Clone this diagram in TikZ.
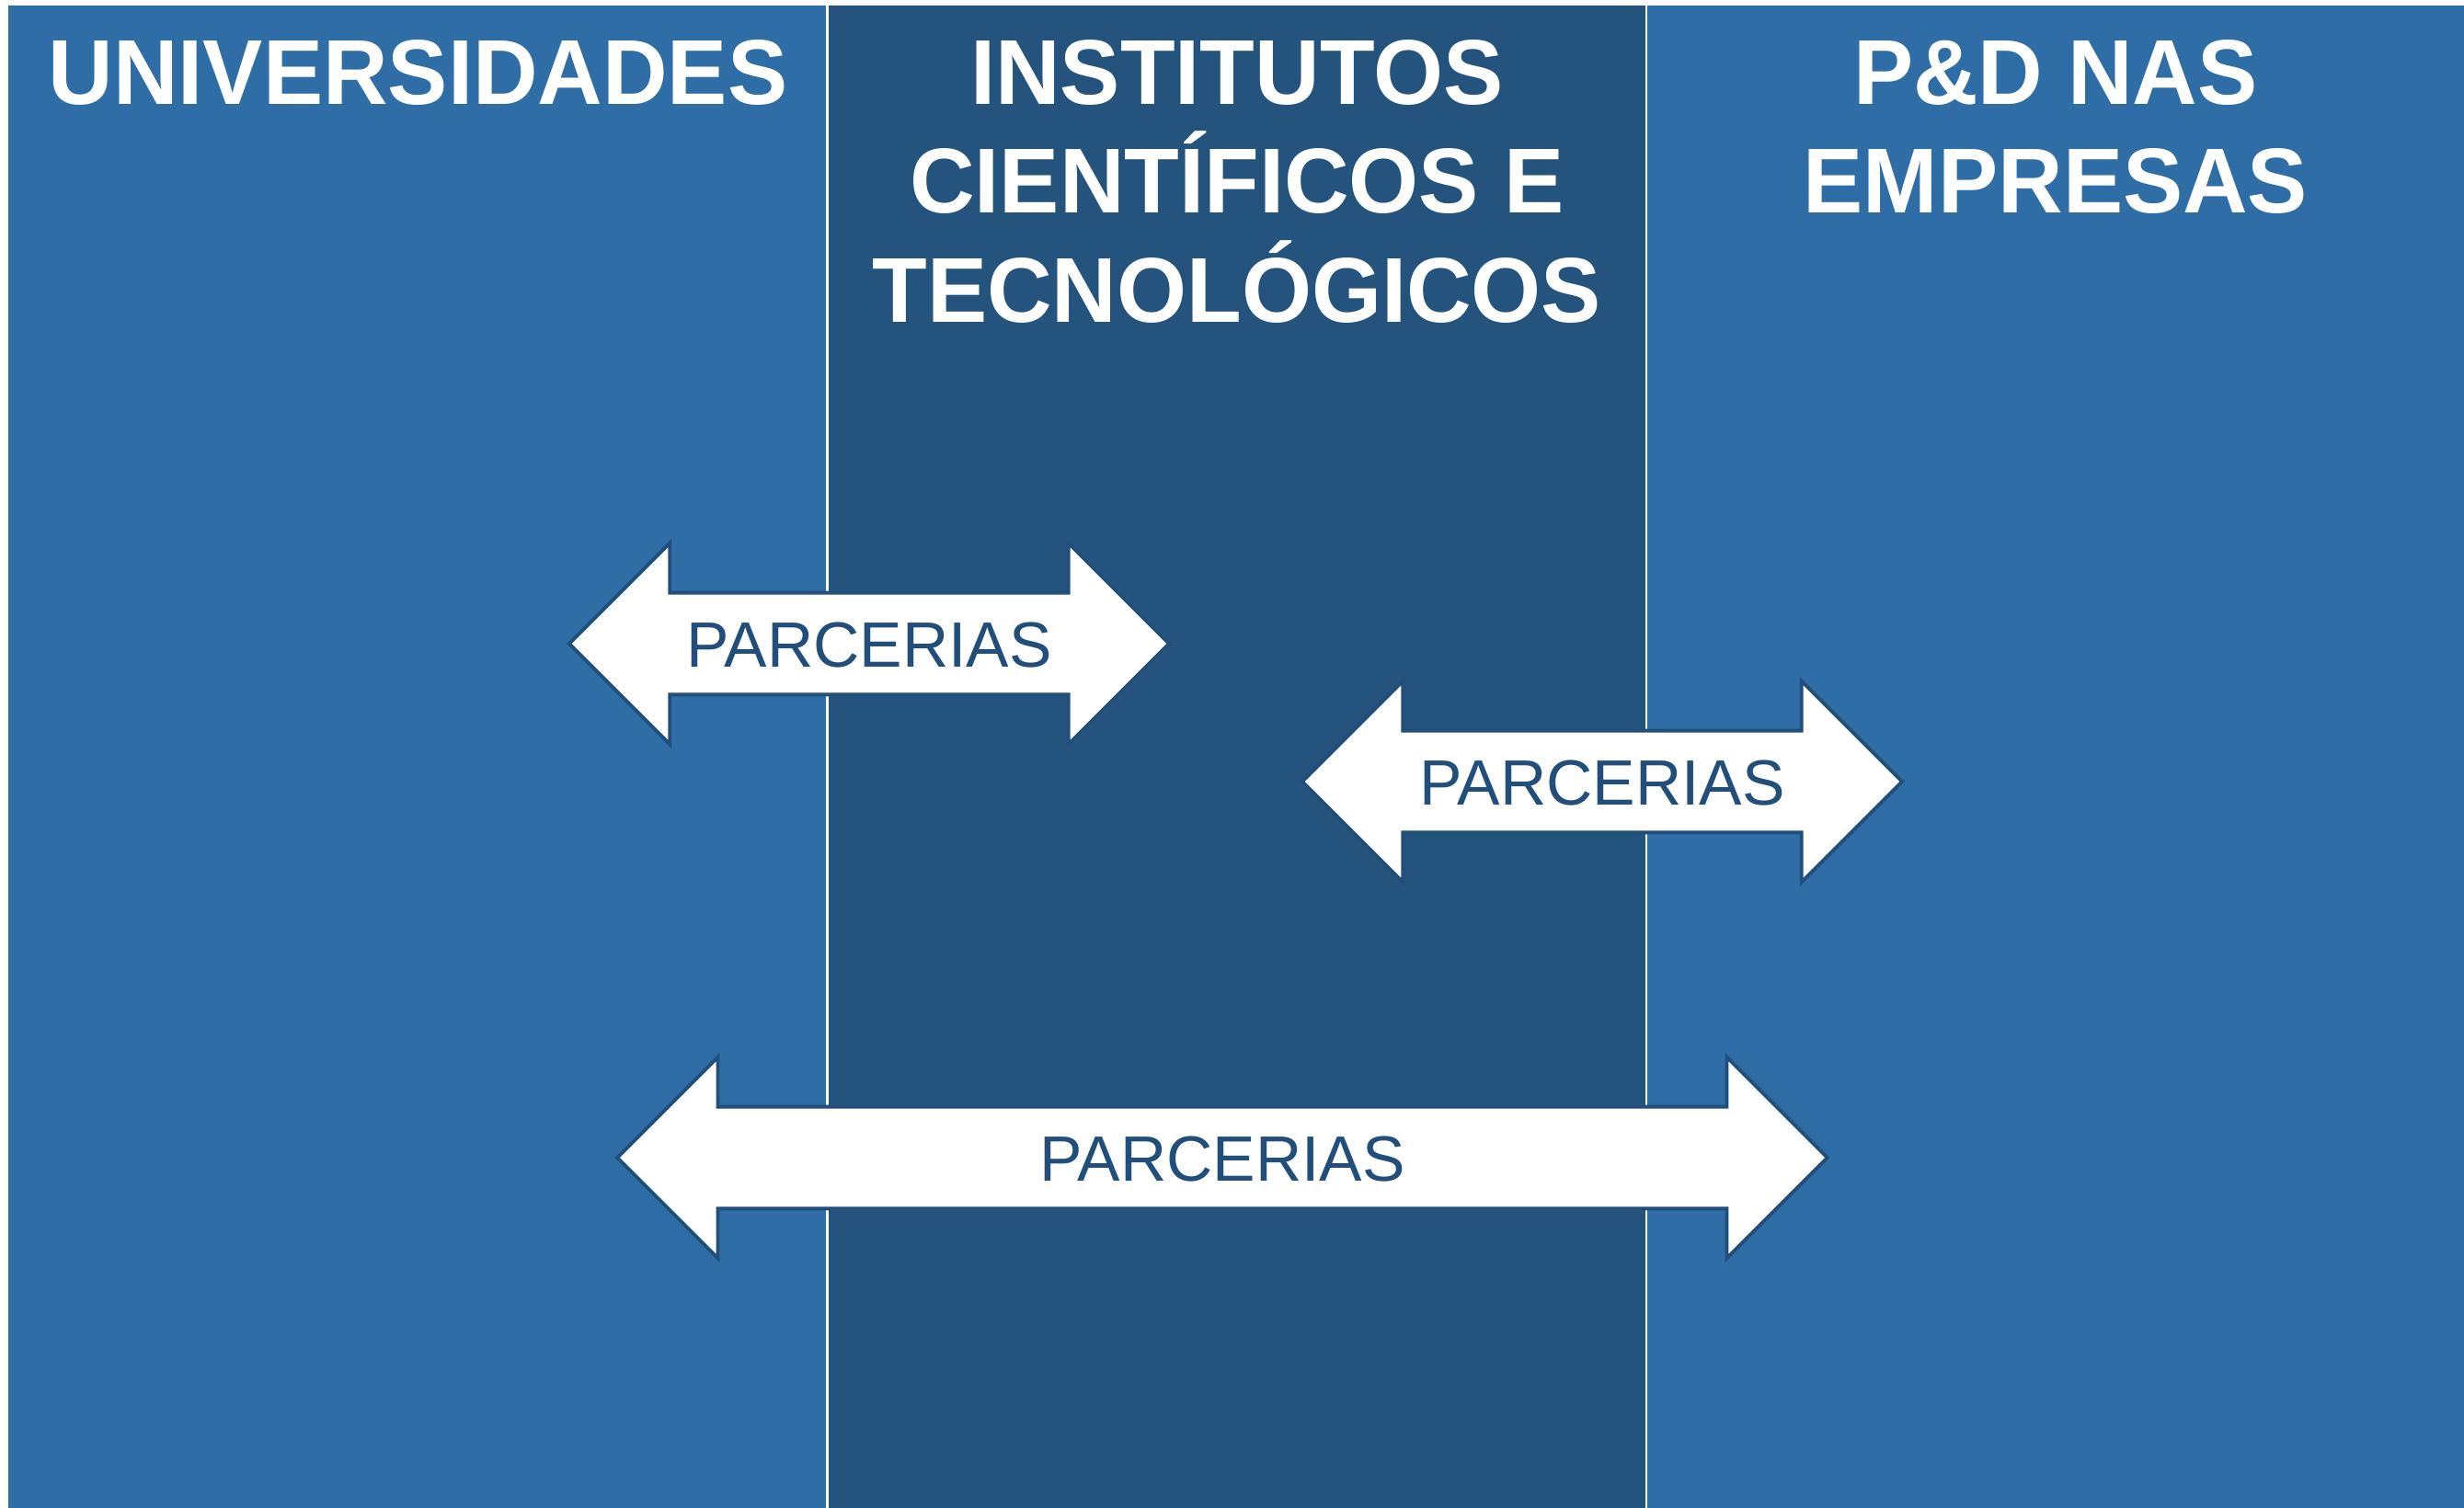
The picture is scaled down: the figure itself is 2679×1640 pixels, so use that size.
\documentclass[tikz,border=0pt]{standalone}
\usepackage{fontspec}
\setmainfont{Liberation Sans}
\newfontfamily\titlefont{Liberation Sans}[FakeStretch=0.975]
\usetikzlibrary{positioning,shapes.arrows}
\definecolor{lightcol}{RGB}{46,109,165}
\definecolor{darkcol}{RGB}{36,83,126}
\definecolor{arrowline}{RGB}{33,78,122}
\tikzset{column/.style={rectangle,minimum width=8.897cm,minimum height=16.34cm,inner sep=0pt,outer sep=0pt},
  title/.style={text=white,font=\titlefont\fontsize{28.5}{33.7}\selectfont\bfseries,align=center,inner sep=0pt},
  link/.style={double arrow,draw=arrowline,line width=1.1pt,fill=white,text=arrowline,
    font=\fontsize{19.8}{23}\selectfont,double arrow tip angle=90,double arrow head extend=0.54cm,
    text height=14.5pt,text depth=0pt,inner ysep=7.95pt,inner xsep=0pt,minimum width=2.15cm},
}
\begin{document}
\begin{tikzpicture}[x=0.01cm,y=-0.01cm]
	\useasboundingbox[fill=white] (0,0) rectangle (2679,1640);
	
	\node[column,fill=lightcol] (univ) at (454.5,823) {};
	\node[column,fill=darkcol] (inst) [right=0cm of univ] {};
	\node[column,fill=lightcol] (empr) [right=0cm of inst] {};
	\draw[white,line width=0.7pt] (univ.north east) -- (univ.south east)
		(inst.north east) -- (inst.south east);
	
	\node[title] (univ title) [below=0.37cm of univ.north] {UNIVERSIDADES};
	\node[title] (inst title) [below=0.37cm of inst.north] {INSTITUTOS\\CIENTÍFICOS E\\TECNOLÓGICOS};
	\node[title] (empr title) [below=0.37cm of empr.north] {P\&D NAS\\EMPRESAS};
	
	\node[link,minimum height=6.52cm] (link ui) at (945,700) {PARCERIAS};
	\node[link,minimum height=6.52cm] (link ie) at (1742,850) {PARCERIAS};
	\node[link,minimum height=13.15cm] (link ue) at (1329,1259) {PARCERIAS};
	
\end{tikzpicture}
\end{document}
